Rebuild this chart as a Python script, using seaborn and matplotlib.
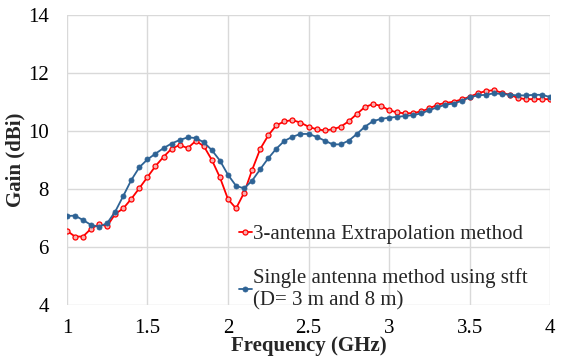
import numpy as np
import pandas as pd
import seaborn as sns
import matplotlib
matplotlib.use("Agg")
import matplotlib.pyplot as plt

# Frequency sweep, 1-4 GHz in 50 MHz steps
freq_ghz = np.round(np.arange(1.0, 4.0001, 0.05), 2)

# 3-antenna extrapolation method gain (dBi)
gain_extrapolation = [
    6.56, 6.36, 6.36, 6.63, 6.78, 6.72, 7.14, 7.33, 7.66, 8.03,
    8.41, 8.79, 9.11, 9.39, 9.52, 9.41, 9.66, 9.48, 9.00, 8.40,
    7.65, 7.33, 7.87, 8.66, 9.38, 9.85, 10.20, 10.33, 10.38, 10.29,
    10.15, 10.06, 10.02, 10.06, 10.15, 10.34, 10.59, 10.83, 10.93, 10.87,
    10.72, 10.64, 10.61, 10.62, 10.68, 10.78, 10.91, 10.97, 11.01, 11.09,
    11.18, 11.30, 11.38, 11.41, 11.32, 11.25, 11.14, 11.10, 11.10, 11.10,
    11.10,
]

# Single antenna method using STFT gain (dBi)
gain_single = [
    7.07, 7.08, 6.93, 6.76, 6.70, 6.82, 7.22, 7.76, 8.31, 8.75,
    9.02, 9.22, 9.41, 9.57, 9.69, 9.78, 9.76, 9.61, 9.34, 8.98,
    8.49, 8.11, 8.02, 8.29, 8.68, 9.06, 9.39, 9.66, 9.80, 9.90,
    9.90, 9.80, 9.67, 9.54, 9.54, 9.67, 9.90, 10.15, 10.34, 10.42,
    10.46, 10.49, 10.52, 10.55, 10.61, 10.72, 10.82, 10.91, 10.95, 11.04,
    11.16, 11.23, 11.25, 11.30, 11.28, 11.25, 11.23, 11.23, 11.25, 11.25,
    11.17,
]

label_extrapolation = "3-antenna Extrapolation method"
label_single = "Single antenna method using stft\n(D= 3 m and 8 m)"

x_ticks = [1, 1.5, 2, 2.5, 3, 3.5, 4]
x_tick_labels = ["1", "1.5", "2", "2.5", "3", "3.5", "4"]
y_ticks = [4, 6, 8, 10, 12, 14]

df = pd.concat([
    pd.DataFrame({"freq": freq_ghz, "gain": gain_extrapolation, "method": label_extrapolation}),
    pd.DataFrame({"freq": freq_ghz, "gain": gain_single, "method": label_single}),
])

sns.set_theme(style="white")
plt.rcParams["font.family"] = ["Liberation Serif", "DejaVu Serif"]

fig, ax = plt.subplots(figsize=(5.62, 3.60), dpi=100)
fig.subplots_adjust(left=0.119, right=0.979, bottom=0.153, top=0.958)

red = "#FF0000"
blue = "#2E6395"

sns.lineplot(
    data=df[df["method"] == label_extrapolation], x="freq", y="gain",
    ax=ax, color=red, linewidth=1.3, marker="o", markersize=3.6,
    markerfacecolor="#F6B0B0", markeredgecolor=red, markeredgewidth=0.9,
    label=label_extrapolation, zorder=3,
)
sns.lineplot(
    data=df[df["method"] == label_single], x="freq", y="gain",
    ax=ax, color=blue, linewidth=1.3, marker="o", markersize=3.6,
    markerfacecolor=blue, markeredgecolor=blue, markeredgewidth=0.6,
    label=label_single, zorder=4,
)

ax.set_xlim(1, 4)
ax.set_ylim(4, 14)
ax.set_xticks(x_ticks)
ax.set_xticklabels(x_tick_labels)
ax.set_yticks(y_ticks)
ax.grid(True, color="#D9D9D9", linewidth=1.0)
ax.set_axisbelow(True)
for side in ["top", "right", "bottom", "left"]:
    ax.spines[side].set_visible(False)
ax.tick_params(axis="both", length=0, labelsize=15, colors="black")
ax.tick_params(axis="x", pad=10)
ax.tick_params(axis="y", pad=13)

ax.set_xlabel("Frequency (GHz)", fontsize=15, fontweight="bold", labelpad=-1)
ax.set_ylabel("Gain (dBi)", fontsize=15, fontweight="bold", labelpad=2)

leg = ax.legend(
    loc="upper left", bbox_to_anchor=(0.338, 0.305), frameon=False,
    fontsize=15, handlelength=0.65, handletextpad=0.05, labelspacing=1.15,
    borderaxespad=0,
)

fig.savefig("out.png", dpi=100)
